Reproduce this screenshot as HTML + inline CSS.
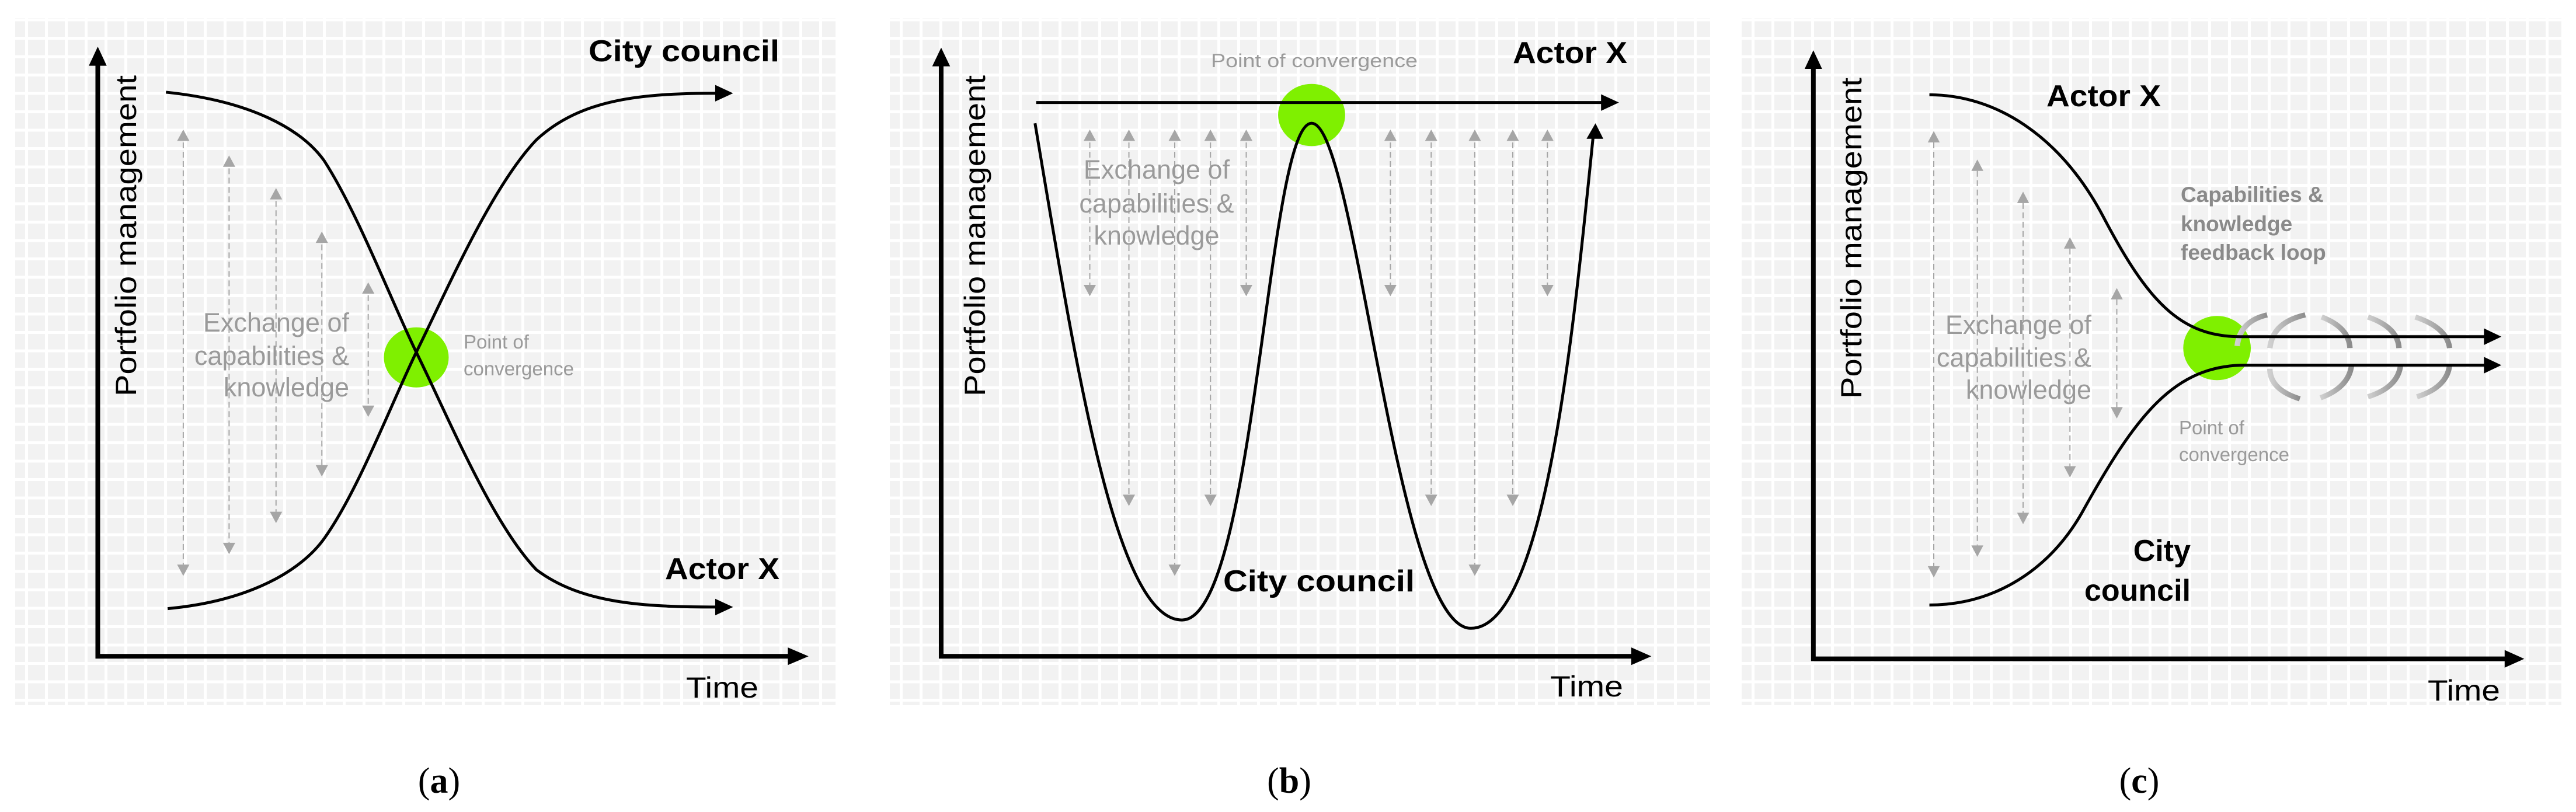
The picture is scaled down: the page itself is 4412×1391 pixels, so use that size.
<!DOCTYPE html>
<html><head><meta charset="utf-8"><style>
html,body{margin:0;padding:0;background:#fff;}
body{width:4412px;height:1391px;position:relative;overflow:hidden;}
.bg{position:absolute;background-color:#f2f2f2;
background-image:linear-gradient(90deg,rgba(255,255,255,0) 0,rgba(255,255,255,0) 17px,#fff 17px,#fff 22px,rgba(255,255,255,0) 22px),linear-gradient(0deg,rgba(255,255,255,0) 0,rgba(255,255,255,0) 26px,#fff 26px,#fff 31px,rgba(255,255,255,0) 31px);
background-size:34px 31.5px,34px 31.5px;}
svg{position:absolute;left:0;top:0;}
</style></head><body>
<div class="bg" style="left:26px;top:31px;width:1405px;height:1177px"></div>
<div class="bg" style="left:1524px;top:31px;width:1405px;height:1177px"></div>
<div class="bg" style="left:2983px;top:31px;width:1404px;height:1177px"></div>
<svg width="4412" height="1391" viewBox="0 0 4412 1391">
<defs>
<linearGradient id="ag" x1="0" y1="0" x2="1" y2="0"><stop offset="0" stop-color="#d0d0d0"/><stop offset="1" stop-color="#8c8c8c"/></linearGradient>
</defs>
<!-- Panel A -->
<g transform="translate(0,0) scale(0.957,0.8873)">
<circle cx="745" cy="690" r="58" fill="#7ff000"/>
<g stroke="#a6a6a6" stroke-width="2" stroke-dasharray="10 6">
<line vector-effect="non-scaling-stroke" x1="328" y1="275" x2="328" y2="1090"/>
<line vector-effect="non-scaling-stroke" x1="410" y1="325" x2="410" y2="1048"/>
<line vector-effect="non-scaling-stroke" x1="494" y1="388" x2="494" y2="988"/>
<line vector-effect="non-scaling-stroke" x1="576" y1="472" x2="576" y2="898"/>
<line vector-effect="non-scaling-stroke" x1="659" y1="570" x2="659" y2="783"/>
</g>
<g fill="#a6a6a6">
<polygon points="328,250 317,272 339,272"/><polygon points="328,1112 317,1090 339,1090"/>
<polygon points="410,300 399,322 421,322"/><polygon points="410,1070 399,1048 421,1048"/>
<polygon points="494,363 483,385 505,385"/><polygon points="494,1010 483,988 505,988"/>
<polygon points="576,447 565,469 587,469"/><polygon points="576,920 565,898 587,898"/>
<polygon points="659,545 648,567 670,567"/><polygon points="659,805 648,783 670,783"/>
</g>
<g fill="none" stroke="#000" stroke-width="5">
<path vector-effect="non-scaling-stroke" d="M300,1175 C450,1160 540,1100 580,1040 C640,950 700,780 745,680 C800,560 880,360 960,270 C1040,190 1150,180 1285,180"/>
<path vector-effect="non-scaling-stroke" d="M297,178 C450,195 540,250 580,310 C640,410 700,580 745,680 C800,800 880,1010 960,1100 C1040,1165 1150,1172 1285,1172"/>
</g>
<g stroke="#000" stroke-width="8" fill="none"><path vector-effect="non-scaling-stroke" d="M175,115 L175,1267 L1415,1267"/></g>
<g fill="#000">
<polygon points="175,90 159,127 191,127"/><polygon points="1447,1267 1410,1250 1410,1284"/>
<polygon points="1312,180 1280,164 1280,196"/><polygon points="1312,1172 1280,1156 1280,1188"/>
</g>
</g>
<!-- Panel B -->
<g transform="translate(1500,0) scale(0.957,0.8873)">
<circle cx="780" cy="222" r="60" fill="#7ff000"/>
<g stroke="#a6a6a6" stroke-width="2" stroke-dasharray="10 6">
<line vector-effect="non-scaling-stroke" x1="383" y1="275" x2="383" y2="550"/>
<line vector-effect="non-scaling-stroke" x1="453" y1="275" x2="453" y2="955"/>
<line vector-effect="non-scaling-stroke" x1="535" y1="275" x2="535" y2="1090"/>
<line vector-effect="non-scaling-stroke" x1="599" y1="275" x2="599" y2="955"/>
<line vector-effect="non-scaling-stroke" x1="663" y1="275" x2="663" y2="550"/>
<line vector-effect="non-scaling-stroke" x1="921" y1="275" x2="921" y2="550"/>
<line vector-effect="non-scaling-stroke" x1="994" y1="275" x2="994" y2="955"/>
<line vector-effect="non-scaling-stroke" x1="1072" y1="275" x2="1072" y2="1090"/>
<line vector-effect="non-scaling-stroke" x1="1140" y1="275" x2="1140" y2="955"/>
<line vector-effect="non-scaling-stroke" x1="1202" y1="275" x2="1202" y2="550"/>
</g>
<g fill="#a6a6a6">
<polygon points="383,250 372,272 394,272"/><polygon points="383,572 372,550 394,550"/>
<polygon points="453,250 442,272 464,272"/><polygon points="453,977 442,955 464,955"/>
<polygon points="535,250 524,272 546,272"/><polygon points="535,1112 524,1090 546,1090"/>
<polygon points="599,250 588,272 610,272"/><polygon points="599,977 588,955 610,955"/>
<polygon points="663,250 652,272 674,272"/><polygon points="663,572 652,550 674,550"/>
<polygon points="921,250 910,272 932,272"/><polygon points="921,572 910,550 932,550"/>
<polygon points="994,250 983,272 1005,272"/><polygon points="994,977 983,955 1005,955"/>
<polygon points="1072,250 1061,272 1083,272"/><polygon points="1072,1112 1061,1090 1083,1090"/>
<polygon points="1140,250 1129,272 1151,272"/><polygon points="1140,977 1129,955 1151,955"/>
<polygon points="1202,250 1191,272 1213,272"/><polygon points="1202,572 1191,550 1213,550"/>
</g>
<g fill="none" stroke="#000" stroke-width="5">
<path vector-effect="non-scaling-stroke" d="M285,238 C360,720 430,1197 548,1197 C680,1197 700,238 780,238 C860,238 930,1213 1065,1213 C1200,1213 1250,620 1284,262"/>
<path vector-effect="non-scaling-stroke" d="M287,198 L1300,198"/>
</g>
<g stroke="#000" stroke-width="8" fill="none"><path vector-effect="non-scaling-stroke" d="M117,120 L117,1267 L1360,1267"/></g>
<g fill="#000">
<polygon points="117,92 101,128 133,128"/><polygon points="1388,1267 1352,1250 1352,1284"/>
<polygon points="1330,198 1298,182 1298,214"/><polygon points="1288,238 1272,268 1302,268"/>
</g>
</g>
<!-- Panel C -->
<g transform="translate(2950,0) scale(0.933,0.8873)">
<circle cx="908" cy="672" r="62" fill="#7ff000"/>
<g stroke="#a6a6a6" stroke-width="2" stroke-dasharray="10 6">
<line vector-effect="non-scaling-stroke" x1="388" y1="275" x2="388" y2="1093"/>
<line vector-effect="non-scaling-stroke" x1="468" y1="330" x2="468" y2="1053"/>
<line vector-effect="non-scaling-stroke" x1="552" y1="392" x2="552" y2="990"/>
<line vector-effect="non-scaling-stroke" x1="638" y1="480" x2="638" y2="900"/>
<line vector-effect="non-scaling-stroke" x1="724" y1="578" x2="724" y2="786"/>
</g>
<g fill="#a6a6a6">
<polygon points="388,253 377,275 399,275"/><polygon points="388,1115 377,1093 399,1093"/>
<polygon points="468,308 457,330 479,330"/><polygon points="468,1075 457,1053 479,1053"/>
<polygon points="552,370 541,392 563,392"/><polygon points="552,1012 541,990 563,990"/>
<polygon points="638,458 627,480 649,480"/><polygon points="638,922 627,900 649,900"/>
<polygon points="724,556 713,578 735,578"/><polygon points="724,808 713,786 735,786"/>
</g>
<g fill="none" stroke="url(#ag)" stroke-width="10">
<path d="M1000,608 Q950,620 945,668"/>
<path d="M1070,608 Q1010,622 1005,672"/>
<path d="M1100,612 Q1150,632 1152,672"/>
<path d="M1185,612 Q1240,632 1242,672"/>
<path d="M1272,612 Q1330,632 1335,672"/>
<path d="M1060,770 Q1005,752 1005,712"/>
<path d="M1098,768 Q1150,748 1155,705"/>
<path d="M1185,766 Q1240,748 1245,705"/>
<path d="M1275,766 Q1330,748 1335,705"/>
</g>
<g fill="none" stroke="#000" stroke-width="5">
<path vector-effect="non-scaling-stroke" d="M380,183 C500,183 620,260 700,420 C780,580 840,650 950,650 L1405,650"/>
<path vector-effect="non-scaling-stroke" d="M380,1168 C500,1168 600,1100 660,990 C760,800 830,705 960,705 L1405,705"/>
</g>
<g stroke="#000" stroke-width="8" fill="none"><path vector-effect="non-scaling-stroke" d="M167,125 L167,1272 L1440,1272"/></g>
<g fill="#000">
<polygon points="167,97 151,133 183,133"/><polygon points="1472,1272 1436,1255 1436,1289"/>
<polygon points="1430,650 1398,634 1398,666"/><polygon points="1430,705 1398,689 1398,721"/>
</g>
</g>

<!-- Text -->
<g font-family="Liberation Sans, sans-serif">
<text x="1008" y="105" font-size="52" font-weight="bold" textLength="327" lengthAdjust="spacingAndGlyphs">City council</text>
<text x="1139" y="992" font-size="52" font-weight="bold" textLength="196" lengthAdjust="spacingAndGlyphs">Actor X</text>
<text x="1175" y="1195" font-size="50" textLength="124" lengthAdjust="spacingAndGlyphs">Time</text>
<text transform="translate(233,679) rotate(-90)" font-size="50" textLength="550" lengthAdjust="spacingAndGlyphs">Portfolio management</text>
<g fill="#9a9a9a" font-size="45" text-anchor="end">
<text x="598" y="568">Exchange of</text><text x="598" y="625">capabilities &amp;</text><text x="598" y="679">knowledge</text>
</g>
<g fill="#9a9a9a" font-size="33"><text x="794" y="597">Point of</text><text x="794" y="643">convergence</text></g>
<text x="2074" y="115" font-size="32" fill="#9a9a9a" textLength="354" lengthAdjust="spacingAndGlyphs">Point of convergence</text>
<text x="2591" y="108" font-size="52" font-weight="bold" textLength="196" lengthAdjust="spacingAndGlyphs">Actor X</text>
<text x="2095" y="1013" font-size="52" font-weight="bold" textLength="328" lengthAdjust="spacingAndGlyphs">City council</text>
<text x="2655" y="1193" font-size="50" textLength="125" lengthAdjust="spacingAndGlyphs">Time</text>
<text transform="translate(1687,679) rotate(-90)" font-size="50" textLength="550" lengthAdjust="spacingAndGlyphs">Portfolio management</text>
<g fill="#9a9a9a" font-size="45" text-anchor="middle">
<text x="1981" y="306">Exchange of</text><text x="1981" y="364">capabilities &amp;</text><text x="1981" y="419">knowledge</text>
</g>
<text x="3505" y="182" font-size="52" font-weight="bold" textLength="196" lengthAdjust="spacingAndGlyphs">Actor X</text>
<g fill="#8a8a8a" font-size="37" font-weight="bold">
<text x="3735" y="346">Capabilities &amp;</text><text x="3735" y="396">knowledge</text><text x="3735" y="445">feedback loop</text>
</g>
<g fill="#9a9a9a" font-size="45" text-anchor="end">
<text x="3582" y="572">Exchange of</text><text x="3582" y="628">capabilities &amp;</text><text x="3582" y="683">knowledge</text>
</g>
<g fill="#9a9a9a" font-size="33"><text x="3732" y="744">Point of</text><text x="3732" y="790">convergence</text></g>
<g font-size="52" font-weight="bold" text-anchor="end"><text x="3752" y="961">City</text><text x="3752" y="1029">council</text></g>
<text x="4158" y="1200" font-size="50" textLength="124" lengthAdjust="spacingAndGlyphs">Time</text>
<text transform="translate(3188,683) rotate(-90)" font-size="50" textLength="550" lengthAdjust="spacingAndGlyphs">Portfolio management</text>
</g>
<g font-family="Liberation Serif, serif" font-size="62" text-anchor="middle">
<text x="752" y="1358">(<tspan font-weight="bold">a</tspan>)</text>
<text x="2208" y="1358">(<tspan font-weight="bold">b</tspan>)</text>
<text x="3664" y="1358">(<tspan font-weight="bold">c</tspan>)</text>
</g>
</svg>
</body></html>
